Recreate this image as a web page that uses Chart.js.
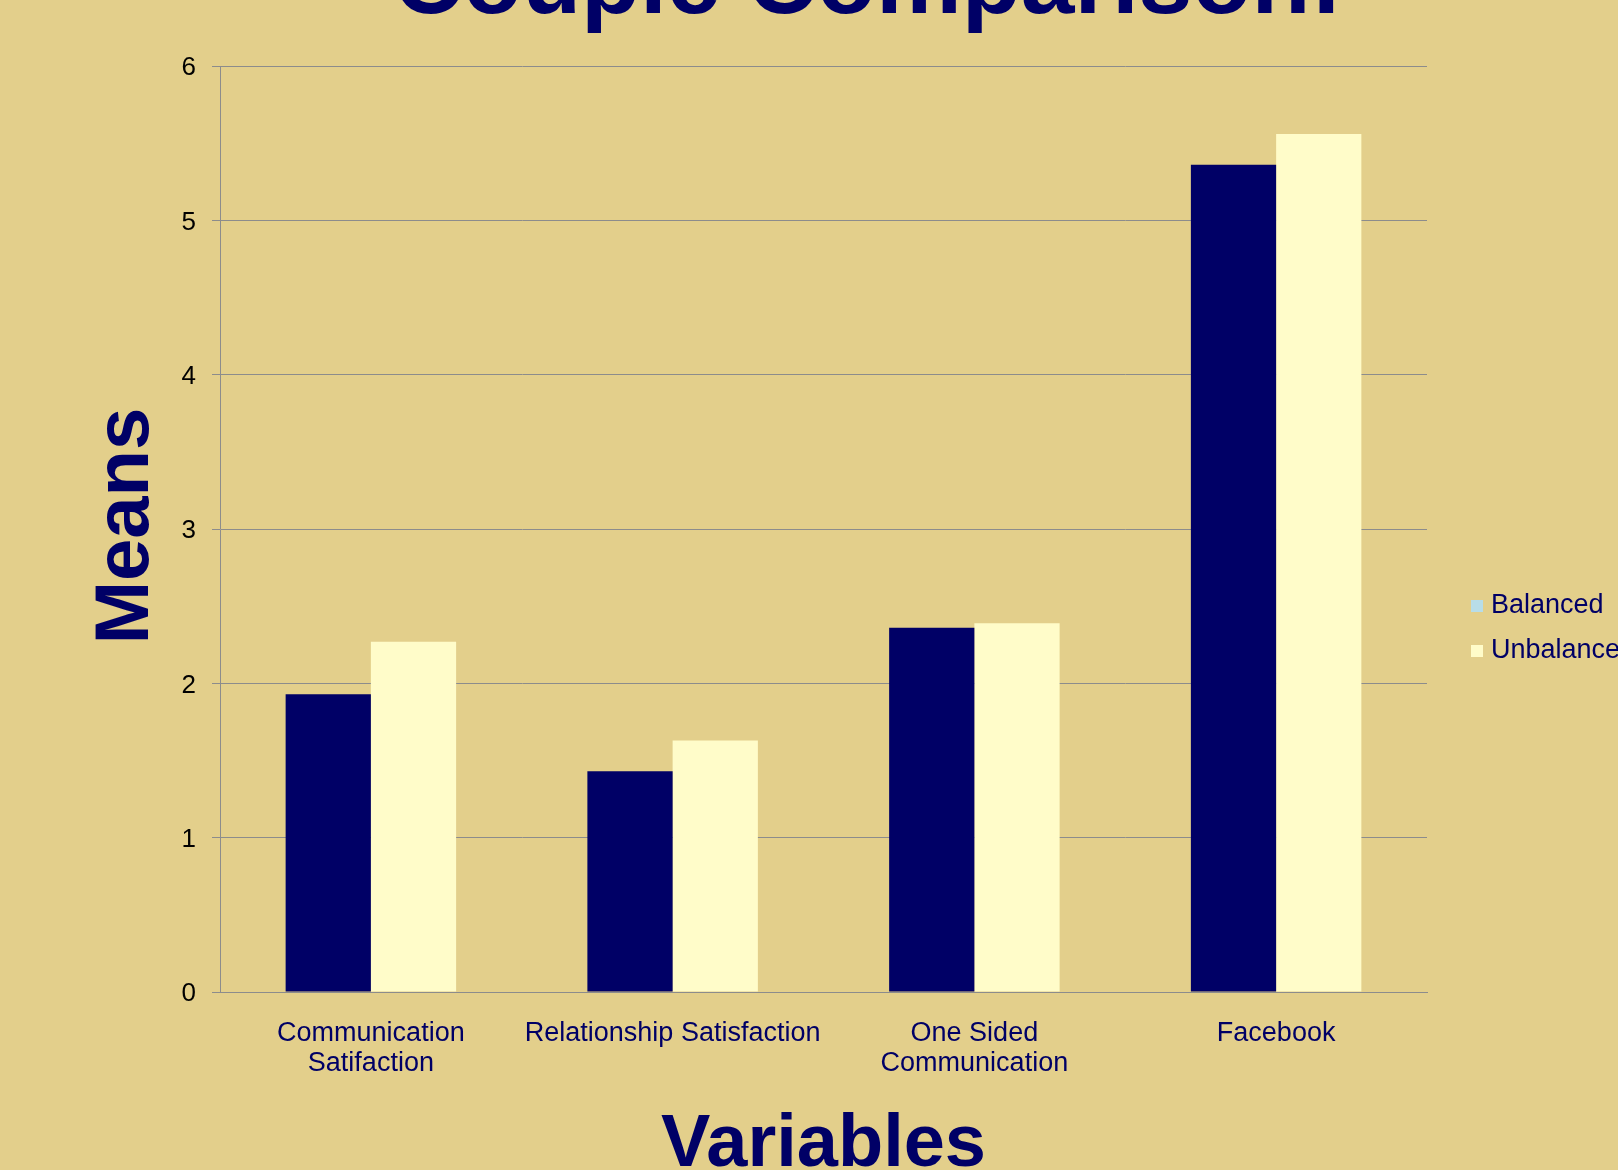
<!DOCTYPE html>
<html>
<head>
<meta charset="utf-8">
<script src="https://cdn.jsdelivr.net/npm/chart.js@4/dist/chart.umd.min.js"></script>
<style>
  html, body { margin: 0; padding: 0; background: #e3cf8b; }
  #wrap { width: 1618px; height: 1170px; }
</style>
</head>
<body>
<div id="wrap"><canvas id="chart" width="1618" height="1170"></canvas></div>
<script>
const categories = [
  ['Communication', 'Satifaction'],
  'Relationship Satisfaction',
  ['One Sided', 'Communication'],
  'Facebook'
];
const balanced = [1.93, 1.43, 2.36, 5.36];
const unbalanced = [2.27, 1.63, 2.39, 5.56];
const seriesNames = ['Balanced', 'Unbalanced'];

const NAVY = '#000066';
const CREAM = '#fffcc9';
const GRID = '#8c8c8c';
const FONT = "'Liberation Sans', Arial, sans-serif";

// legend swatches differ from the bar fills in the original
const legendSwatches = ['#b8dde8', '#fffcc9'];

const background = {
  id: 'background',
  beforeDraw(chart) {
    const ctx = chart.ctx;
    ctx.save();
    ctx.fillStyle = '#e3cf8b';
    ctx.fillRect(0, 0, chart.width, chart.height);
    ctx.restore();
  }
};

const decorations = {
  id: 'decorations',
  afterDraw(chart) {
    const ctx = chart.ctx;
    const area = chart.chartArea;
    ctx.save();
    ctx.fillStyle = NAVY;

    // title, mostly cut off at the top edge
    ctx.font = 'bold 96.5px ' + FONT;
    ctx.textAlign = 'center';
    ctx.textBaseline = 'alphabetic';
    ctx.fillText('Couple Comparison:', 868, 13);

    // x axis title
    ctx.font = 'bold 74px ' + FONT;
    ctx.fillText('Variables', (area.left + area.right) / 2, 1166);

    // y axis title
    ctx.save();
    ctx.translate(148, (area.top + area.bottom) / 2 - 3);
    ctx.rotate(-Math.PI / 2);
    ctx.font = 'bold 76px ' + FONT;
    ctx.fillText('Means', 0, 0);
    ctx.restore();

    // legend
    ctx.font = '27px ' + FONT;
    ctx.textAlign = 'left';
    ctx.textBaseline = 'middle';
    chart.data.datasets.forEach((ds, i) => {
      const y = 606 + i * 45;
      ctx.fillStyle = legendSwatches[i];
      ctx.fillRect(1471, y - 6, 12, 12);
      ctx.fillStyle = NAVY;
      ctx.fillText(ds.label, 1491, y);
    });
    ctx.restore();
  }
};

new Chart(document.getElementById('chart'), {
  type: 'bar',
  data: {
    labels: categories,
    datasets: [{
      label: seriesNames[0],
      data: balanced,
      backgroundColor: NAVY
    }, {
      label: seriesNames[1],
      data: unbalanced,
      backgroundColor: CREAM
    }]
  },
  options: {
    responsive: false,
    animation: false,
    devicePixelRatio: 1,
    layout: { padding: { left: 0, top: 66, right: 191, bottom: 0 } },
    plugins: {
      legend: { display: false },
      title: { display: false },
      tooltip: { enabled: false }
    },
    datasets: {
      bar: { categoryPercentage: 0.565, barPercentage: 1.0 }
    },
    scales: {
      x: {
        grid: { display: false, drawTicks: false },
        border: { display: true, color: GRID },
        ticks: {
          color: NAVY,
          font: { family: FONT, size: 27, lineHeight: 1.11 },
          padding: 27,
          maxRotation: 0,
          autoSkip: false
        },
        afterFit(scale) { scale.height = 178; }
      },
      y: {
        min: 0,
        max: 6,
        ticks: {
          stepSize: 1,
          color: '#000000',
          font: { family: FONT, size: 26 },
          padding: 16,
          labelOffset: 2
        },
        grid: { color: GRID, tickLength: 8, lineWidth: 1 },
        border: { color: GRID },
        afterFit(scale) { scale.width = 220; }
      }
    }
  },
  plugins: [background, decorations]
});
</script>
</body>
</html>
